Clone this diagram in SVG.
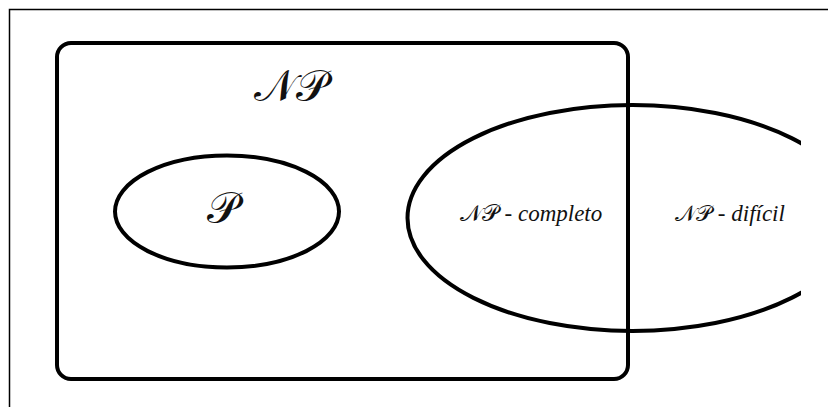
<svg xmlns="http://www.w3.org/2000/svg" width="828" height="407" viewBox="0 0 828 407">
  <style>
    .shape { fill: none; stroke: #000; stroke-width: 4; }
    .frame { fill: none; stroke: #000; stroke-width: 1.5; }
    .script { font-family: "DejaVu Serif", "Liberation Serif", serif; font-style: normal; fill: #111; }
    .lbl { font-family: "Liberation Serif", serif; font-style: italic; fill: #111; font-size: 23px; }
  </style>
  <defs>
    <clipPath id="cut"><rect x="0" y="0" width="801" height="407"/></clipPath>
  </defs>
  <rect width="828" height="407" fill="#fff"/>
  <polyline class="frame" points="9.5,407 9.5,9.5 828,9.5"/>
  <g id="np">
    <rect class="shape" x="57" y="43" width="571" height="336" rx="14"/>
    <text class="script" x="291" y="101" font-size="44" text-anchor="middle">𝒩𝒫</text>
  </g>
  <g id="p">
    <ellipse class="shape" cx="227" cy="211.5" rx="112" ry="56"/>
    <text class="script" x="223" y="223" font-size="44" text-anchor="middle">𝒫</text>
  </g>
  <g id="nphard">
    <ellipse class="shape" cx="632.5" cy="218" rx="225" ry="113" clip-path="url(#cut)"/>
    <text class="lbl" x="531" y="221" text-anchor="middle"><tspan class="script" font-size="23">𝒩𝒫</tspan> - completo</text>
    <text class="lbl" x="730" y="221" text-anchor="middle"><tspan class="script" font-size="22">𝒩𝒫</tspan> - difícil</text>
  </g>
  <g id="connectors"/>
</svg>
